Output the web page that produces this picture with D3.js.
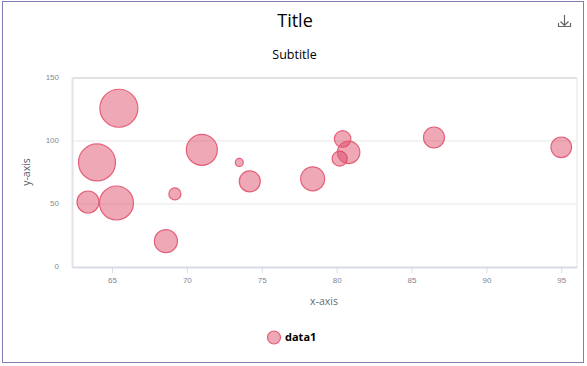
<!DOCTYPE html>
<html>
<head>
<meta charset="utf-8">
<script src="https://cdn.jsdelivr.net/npm/d3@7"></script>
<style>
  html, body { margin: 0; padding: 0; background: #fff; overflow: hidden; }
  svg { display: block; font-family: "Open Sans", sans-serif; }
</style>
</head>
<body>
<div id="chart"></div>
<script>
// values
const xValues = [65.46, 64, 63.4, 65.3, 69.2, 68.6, 71, 73.5, 74.2, 78.4, 80.2, 80.4, 80.8, 86.5, 95];
const yValues = [126, 83, 51.6, 50.8, 58, 20.5, 93, 83, 68, 70, 86, 101.6, 91, 102.8, 95];
const sizes = [100, 95, 33.5, 80, 10, 36.6, 66.5, 4.4, 30.5, 40, 15.6, 19, 35, 30.5, 29.4];
const xTicks = [65, 70, 75, 80, 85, 90, 95];
const yTicks = [0, 50, 100, 150];
const seriesName = "data1";

const width = 587, height = 366;
const margin = { top: 78, right: 10, bottom: 99, left: 72 };
const innerW = width - margin.left - margin.right;
const innerH = height - margin.top - margin.bottom;

const svg = d3.select("#chart").append("svg")
  .attr("width", width)
  .attr("height", height);

// outer frame
svg.append("rect")
  .attr("x", 2.5).attr("y", 1.5)
  .attr("width", 581).attr("height", 361)
  .attr("fill", "#fff")
  .attr("stroke", "#7f7db5");

const xScale = d3.scaleLinear().domain([62.33, 96.05]).range([0, innerW]);
const yScale = d3.scaleLinear().domain([0, 150]).range([innerH, 0]);
const rScale = d3.scaleSqrt().domain([0, 100]).range([0, 19]);

const g = svg.append("g")
  .attr("transform", `translate(${margin.left}, ${margin.top})`);

// grid lines
g.selectAll(".grid")
  .data(yTicks.filter(d => d > 0 && d < 150))
  .enter().append("line")
  .attr("class", "grid")
  .attr("x1", 0).attr("x2", innerW)
  .attr("y1", d => yScale(d)).attr("y2", d => yScale(d))
  .attr("stroke", "#f3f3f3")
  .attr("stroke-width", 2);

// plot border
g.append("line").attr("x1", 0).attr("x2", innerW).attr("y1", 0).attr("y2", 0)
  .attr("stroke", "#e2e2e2").attr("stroke-width", 2);
g.append("line").attr("x1", innerW).attr("x2", innerW).attr("y1", 0).attr("y2", innerH)
  .attr("stroke", "#e6e6e6").attr("stroke-width", 1);

// y axis
const yAxis = g.append("g")
  .call(d3.axisLeft(yScale).tickValues(yTicks).tickSize(0).tickSizeOuter(0).tickPadding(13));
yAxis.select(".domain").attr("stroke", "#e2e2e8").attr("stroke-width", 2);
yAxis.selectAll("text")
  .attr("dy", "0.2em")
  .style("font-size", "8px")
  .attr("fill", "#8a8a8a");

// x axis
const xAxis = g.append("g")
  .attr("transform", `translate(0, ${innerH})`)
  .call(d3.axisBottom(xScale).tickValues(xTicks).tickSize(6).tickSizeOuter(0).tickPadding(4));
xAxis.select(".domain").attr("stroke", "#d8dce8").attr("stroke-width", 2);
xAxis.selectAll("line").attr("stroke", "#d8dce8");
xAxis.selectAll("text")
  .style("font-size", "8px")
  .attr("fill", "#7f8594");

// bubbles
g.selectAll("circle")
  .data(xValues.map((x, i) => ({ x: x, y: yValues[i], z: sizes[i] })))
  .enter().append("circle")
  .attr("cx", d => xScale(d.x))
  .attr("cy", d => yScale(d.y))
  .attr("r", d => rScale(d.z))
  .attr("fill", "#d93a58")
  .attr("fill-opacity", 0.44)
  .attr("stroke", "#e4607a")
  .attr("stroke-width", 1.2);

// titles
svg.append("text")
  .attr("x", 295).attr("y", 27)
  .attr("text-anchor", "middle")
  .style("font-size", "18px")
  .attr("fill", "#000")
  .text("Title");

svg.append("text")
  .attr("x", 294.5).attr("y", 59)
  .attr("text-anchor", "middle")
  .style("font-size", "12.5px")
  .attr("fill", "#000")
  .text("Subtitle");

// axis labels
svg.append("text")
  .attr("x", 324).attr("y", 305)
  .attr("text-anchor", "middle")
  .style("font-size", "10.5px")
  .attr("fill", "#666b75")
  .text("x-axis");

svg.append("text")
  .attr("transform", "translate(30, 172) rotate(-90)")
  .attr("text-anchor", "middle")
  .style("font-size", "10.5px")
  .attr("fill", "#555b68")
  .text("y-axis");

// legend
svg.append("circle")
  .attr("cx", 274).attr("cy", 337.5).attr("r", 6.5)
  .attr("fill", "#d93a58")
  .attr("fill-opacity", 0.44)
  .attr("stroke", "#e4607a")
  .attr("stroke-width", 1.2);

svg.append("text")
  .attr("x", 285).attr("y", 341)
  .style("font-size", "11px")
  .style("font-weight", "bold")
  .attr("fill", "#000")
  .text(seriesName);

// download icon
svg.append("path")
  .attr("d", "M564.5 15V25M560.5 21.5L564.5 25.5L568.5 21.5M558.5 23V26.5H570.5V23")
  .attr("fill", "none")
  .attr("stroke", "#666")
  .attr("stroke-width", 1.2);
</script>
</body>
</html>
